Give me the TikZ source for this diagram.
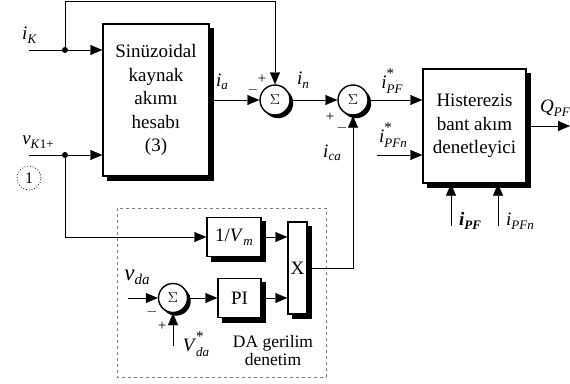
\documentclass[tikz,border=0pt]{standalone}
\usepackage{fontspec}
\setmainfont{Liberation Serif}
\usetikzlibrary{arrows.meta,calc}
\pgfdeclarelayer{shadowlayer}
\pgfsetlayers{shadowlayer,main}
% italic symbol with subscript, optional superscript star
\newcommand\isub[2]{\textit{#1}\raisebox{-0.4ex}{\fontsize{13}{13}\selectfont\textit{#2}}}
\newcommand\istarsub[2]{\textit{#1}\makebox[0pt][l]{\raisebox{1.1ex}{\fontsize{15}{15}\selectfont *}}\raisebox{-0.55ex}{\fontsize{13}{13}\selectfont\textit{#2}}}
\begin{document}
\begin{tikzpicture}[x=1pt,y=-1pt,
  font=\fontsize{19}{23.5}\selectfont,
  line width=1.4pt,
  >={Triangle[length=12pt,width=10pt]},
  blk/.style={draw,fill=white,inner sep=0pt,align=center},
  sumc/.style={draw,circle,fill=white,inner sep=0pt,font=\fontsize{14}{14}\selectfont},
  lbl/.style={inner sep=0pt},
  sgn/.style={inner sep=0pt,font=\fontsize{15}{15}\selectfont},
  dot/.style={circle,fill=black,inner sep=0pt,minimum size=6pt}]
\useasboundingbox (0,0) rectangle (570,383);

% dashed frame of the DC voltage controller
\draw[gray,dashed,line width=1pt] (117,208) rectangle (326,377);

% blocks
\node[blk,minimum width=106pt,minimum height=152pt] (B1) at (156,100)
  {Sinüzoidal\\kaynak\\akımı\\hesabı\\(3)};
\node[blk,minimum width=103pt,minimum height=114pt] (H) at (474.5,126)
  {Histerezis\\bant akım\\denetleyici};
\node[blk,minimum width=54pt,minimum height=39pt] (Vm) at (234,237)
  {1/\isub{V}{m}};
\node[blk,minimum width=43pt,minimum height=39pt] (PI) at (239.5,298) {PI};
\node[blk,minimum width=19pt,minimum height=92pt] (X) at (297.5,268) {X};

% summing junctions
\node[sumc,minimum size=30pt] (S1) at (275,100) {$\Sigma$};
\node[sumc,minimum size=30pt] (S2) at (353,100) {$\Sigma$};
\node[sumc,minimum size=29pt] (S3) at (173,298) {$\Sigma$};

% drop shadows behind blocks and junctions
\begin{pgfonlayer}{shadowlayer}
  \foreach \bk in {B1,H,Vm,PI,X}
    \fill ([shift={(4.5,4.5)}]\bk.north west) rectangle ([shift={(4.5,4.5)}]\bk.south east);
  \fill ([shift={(3,3)}]S1.center) circle (15.2);
  \fill ([shift={(3,3)}]S2.center) circle (15.2);
  \fill ([shift={(3,3)}]S3.center) circle (14.7);
\end{pgfonlayer}

% input points and branch dots
\coordinate (iKin) at (29,50);
\coordinate (vKin) at (29,155);
\node[dot] (dK) at (65,50) {};
\node[dot] (dV) at (65,155) {};
\coordinate (top) at (275,1.5);
\coordinate (iPFnin) at (377,155);
\coordinate (Qout) at (570,126);
\coordinate (b1) at (451,226);
\coordinate (b2) at (498,226);
\coordinate (vdain) at (128,298);
\coordinate (Vdain) at (173,346);

% connectors
\draw (iKin) -- (dK);
\draw[->] (dK) -- (dK -| B1.west);
\draw[->] (dK) |- (top) -- (S1.north);
\draw (vKin) -- (dV);
\draw[->] (dV) -- (dV -| B1.west);
\draw[->] (dV) |- (Vm.west);
\draw[->] (B1.east) -- (S1.west);
\draw[->] (S1.east) -- (S2.west);
\draw[->] (S2.east) -- (S2 -| H.west);
\draw[->] (iPFnin) -- (iPFnin -| H.west);
\draw[->] (H.east) -- (Qout);
\draw[->] (b1) -- (b1 |- H.south);
\draw[->] (b2) -- (b2 |- H.south);
\draw[->] (Vm.east) -- (Vm -| X.west);
\draw[->] (PI.east) -- (PI -| X.west);
\draw[->] (X.east) -| (S2.south);
\draw[->] (vdain) -- (S3.west);
\draw[->] (S3.east) -- (PI.west);
\draw[->] (Vdain) -- (S3.south);

% dotted marker
\node[draw,circle,dotted,line width=0.8pt,minimum size=24pt,inner sep=0pt,
  font=\fontsize{16}{16}\selectfont] (m1) at (29,178) {1};

% signal labels
\node[lbl] (liK) at (29.5,35) {\isub{i}{K}};
\node[lbl] (lvK) at (38,142) {\textit{v}\raisebox{-0.4ex}{\fontsize{13}{13}\selectfont\textit{K}1+}};
\node[lbl] (lia) at (222,82) {\isub{i}{a}};
\node[lbl] (lin) at (303,80) {\isub{i}{n}};
\node[lbl] (lica) at (332,153) {\isub{i}{ca}};
\node[lbl] (liPF) at (392,81) {\istarsub{i}{PF}};
\node[lbl] (liPFn) at (393,135) {\istarsub{i}{PFn}};
\node[lbl] (lQ) at (555,108) {\isub{Q}{PF}};
\node[lbl] (lbPF) at (470,221) {\textbf{\textit{i}\raisebox{-0.4ex}{\fontsize{13}{13}\selectfont\textit{PF}}}};
\node[lbl] (lPFn) at (520,221) {\isub{i}{PFn}};
\node[lbl,font=\fontsize{23}{23}\selectfont] (lvda) at (137,277)
  {\textit{v}\raisebox{-0.4ex}{\fontsize{15}{15}\selectfont\textit{da}}};
\node[lbl] (lVda) at (196,344) {\istarsub{V}{da}};
\node[lbl,align=center,font=\fontsize{17.5}{18}\selectfont] (lDA) at (273,351)
  {DA gerilim\\denetim};

% signs at the summing junctions
\node[sgn] (p1) at (262,79) {+};
\node[sgn] (m1s) at (253,90) {$-$};
\node[sgn] (p2) at (330,117) {+};
\node[sgn] (m2s) at (342,128) {$-$};
\node[sgn] (m3s) at (152,312) {$-$};
\node[sgn] (p3) at (162,326) {+};
\end{tikzpicture}
\end{document}
